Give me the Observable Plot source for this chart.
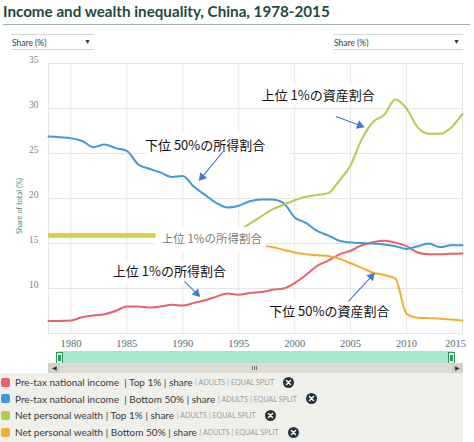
<!DOCTYPE html>
<html>
<head>
<meta charset="utf-8">
<script src="https://cdn.jsdelivr.net/npm/d3@7"></script>
<script src="https://cdn.jsdelivr.net/npm/@observablehq/plot@0.6"></script>
<style>
  html, body { margin: 0; padding: 0; background: #fff; }
  #root { position: relative; width: 474px; height: 442px; overflow: hidden; font-family: Lato, "Noto Sans", sans-serif; }
  #root svg.plot { position: absolute; left: 0; top: 0; }
  .title { position: absolute; left: 3px; top: 2px; font: 700 15.2px Lato, sans-serif; color: #1f4a3b; white-space: nowrap; }
  .title-rule { position: absolute; left: 3px; top: 24px; width: 467px; height: 1px; background: #9fb3ab; }
  .dd { position: absolute; top: 34px; height: 14px; border-top: 1px solid #d2d6d4; border-bottom: 1px solid #d2d6d4; font: 8.5px Lato, sans-serif; color: #2f3f3a; }
  .dd span.t { position: absolute; left: 1px; top: 3px; }
  .dd span.c { position: absolute; right: 3px; top: 2px; font-size: 7px; color: #334; }
  .ylab { position: absolute; left: 19px; top: 206px; transform: translate(-50%, -50%) rotate(-90deg); font: 7.5px Lato, sans-serif; color: #4d8a74; white-space: nowrap; }
  .nav { position: absolute; left: 57px; top: 351px; width: 396px; height: 12px; background: #a6e6ca; }
  .handle { position: absolute; top: 352px; width: 5px; height: 10px; background: #eafaf1; border: 1px solid #23985a; }
  .handle::after { content: ""; position: absolute; left: 1px; top: 2px; width: 3px; height: 6px; background: #2a9d5c; }
  .scroll { position: absolute; left: 48px; top: 363px; width: 415px; height: 10px; background: #dcdcd2; }
  .sbtn { position: absolute; top: 0; width: 12px; height: 10px; background: #d2d2c8; font-size: 6px; color: #333; text-align: center; line-height: 10px; }
  .grip { position: absolute; left: 204px; top: 3px; width: 6px; height: 4px;
          background: repeating-linear-gradient(90deg, #777 0 1px, transparent 1px 2px); }
  .legend { position: absolute; left: 0; top: 373px; width: 463px; height: 69px; background: #f0f0eb; }
  .row { position: absolute; left: 0; height: 14px; display: flex; align-items: center; white-space: nowrap; font: 10px Lato, sans-serif; color: #3a3a3a; }
  .sw { width: 9px; height: 9px; border-radius: 2px; margin: 0 5px 0 1px; }
  .sc { font-size: 7px; color: #9a9a9a; letter-spacing: 0.1px; }
  .x { margin-left: 9px; width: 11px; height: 11px; }
</style>
</head>
<body>
<div id="root"></div>
<script>
// ---- series (share of total, %) ----
const years = d3.range(1978, 2016);
const incomeTop1 = [6.4, 6.4, 6.45, 6.8, 7.0, 7.15, 7.5, 8.0, 8.0, 7.9, 8.0, 8.2, 8.1, 8.4, 8.7, 9.1, 9.45, 9.3, 9.5, 9.6,
  9.85, 10.0, 10.6, 11.5, 12.5, 13.1, 13.8, 14.2, 14.8, 15.15, 15.3, 15.1, 14.7, 14.0, 13.8, 13.8, 13.85, 13.9];
const incomeBottom50 = [26.9, 26.8, 26.7, 26.4, 25.7, 26.0, 25.6, 25.3, 23.8, 23.3, 22.9, 22.4, 22.5, 21.3, 20.4, 19.5, 19.0, 19.2, 19.7, 19.9,
  19.9, 19.5, 17.9, 17.3, 16.4, 15.9, 15.3, 15.1, 15.05, 15.0, 14.9, 14.7, 14.4, 14.7, 15.0, 14.6, 14.8, 14.8];
const wealthYears = d3.range(1995, 2016);
const wealthTop1 = [16.4, 17.2, 18.0, 18.8, 19.3, 19.8, 20.2, 20.4, 20.6, 22.0, 23.7, 26.6, 28.5, 29.3, 31.0, 30.0, 27.9, 27.2, 27.2, 27.9, 29.4];
const wealthBottom50 = [15.3, 15.0, 14.8, 14.6, 14.3, 14.0, 13.8, 13.7, 13.6, 13.3, 12.8, 12.3, 11.75, 11.5, 11.1, 7.2, 6.75, 6.7, 6.65, 6.55, 6.45];

const seriesNames = ["Pre-tax national income", "Pre-tax national income", "Net personal wealth", "Net personal wealth"];
const seriesGroups = ["Top 1%", "Bottom 50%", "Top 1%", "Bottom 50%"];
const seriesColors = ["#e8606c", "#3f9ad8", "#b3cb55", "#f4ad33"];

// ---- axes ----
const xTicks = d3.range(1980, 2011, 5);
const xLastTick = [2015];
const xGridTicks = d3.range(1980, 2016, 5);
const yTicks = [10, 15, 20, 25, 30, 35];
const yGrid = [10, 15, 20, 25, 30];

// ---- annotations (Japanese callouts) ----
const notes = [
  {text: "下位 50%の所得割合", x: 1992.0, y: 25.9, fill: "#111", size: 13, box: [1986.85, 1999.6, 24.22, 27.33]},
  {text: "上位 1%の資産割合", x: 2002.1, y: 31.4, fill: "#111", size: 13, box: [1996.8, 2007.5, 30.33, 32.56]},
  {text: "上位 1%の所得割合", x: 1992.6, y: 15.44, fill: "#7a7a7a", size: 11.5, box: [1987.56, 1997.48, 14.0, 16.78]},
  {text: "上位 1%の所得割合", x: 1988.8, y: 11.8, fill: "#111", size: 13, box: [1983.54, 1994.1, 10.67, 12.89]},
  {text: "下位 50%の資産割合", x: 2003.1, y: 7.44, fill: "#111", size: 13, box: [1997.66, 2008.56, 6.33, 8.56]}
];
const arrows = [
  {x1: 1993.6, y1: 25.2, x2: 1991.4, y2: 21.9},
  {x1: 2003.7, y1: 29.1, x2: 2006.3, y2: 27.9},
  {x1: 1990.15, y1: 10.8, x2: 1991.6, y2: 9.0},
  {x1: 2004.8, y1: 8.56, x2: 2007.2, y2: 11.8}
];
// key swatch next to the grey callout
const keyBar = {x1: 1978, x2: 1987.6, yTop: 16.0, yBottom: 15.74};

// ---- layout ----
const W = 474, H = 356;
const M = {top: 63, right: 12, bottom: 23, left: 48};
const xDomain = [1978, 2015], yDomain = [5, 35];

const rows = (xs, vs) => xs.map((year, i) => ({year, value: vs[i]}));
const data = [
  rows(years, incomeTop1),
  rows(years, incomeBottom50),
  rows(wealthYears, wealthTop1),
  rows(wealthYears, wealthBottom50)
];

// arrow heads as rotated triangles, computed in screen space
const sx = Plot.scale({x: {domain: xDomain, range: [M.left, W - M.right]}});
const sy = Plot.scale({y: {domain: yDomain, range: [H - M.bottom, M.top]}});
const HEAD = 8.5;
const shafts = [], heads = [];
for (const a of arrows) {
  const px1 = sx.apply(a.x1), py1 = sy.apply(a.y1);
  const px2 = sx.apply(a.x2), py2 = sy.apply(a.y2);
  const len = Math.hypot(px2 - px1, py2 - py1);
  const ux = (px2 - px1) / len, uy = (py2 - py1) / len;
  shafts.push({x1: a.x1, y1: a.y1, x2: sx.invert(px2 - ux * HEAD * 0.8), y2: sy.invert(py2 - uy * HEAD * 0.8)});
  heads.push({
    x: sx.invert(px2 - ux * HEAD * 2 / 3),
    y: sy.invert(py2 - uy * HEAD * 2 / 3),
    angle: Math.atan2(ux, -uy) * 180 / Math.PI
  });
}

const tickFont = "'Liberation Serif', serif";
const gridColor = "#e6e6e6";
const xAxisOpts = {tickSize: 0, tickPadding: 6, tickFormat: d => String(d), fontSize: 10.5, fontFamily: tickFont, fill: "#56707a", label: null};

const chart = Plot.plot({
  width: W, height: H,
  marginTop: M.top, marginRight: M.right, marginBottom: M.bottom, marginLeft: M.left,
  x: {domain: xDomain},
  y: {domain: yDomain},
  style: {background: "transparent", overflow: "visible"},
  marks: [
    Plot.gridX(xGridTicks, {stroke: gridColor, strokeOpacity: 1}),
    Plot.gridY(yGrid, {stroke: gridColor, strokeOpacity: 1}),
    Plot.frame({stroke: gridColor}),
    Plot.axisY(yTicks, {tickSize: 0, tickPadding: 10, dy: -4, fontSize: 9.5, fontFamily: tickFont, fill: "#6c8a86", label: null}),
    Plot.axisX(xTicks, xAxisOpts),
    // last year label kept inside the plot edge
    Plot.axisX(xLastTick, {...xAxisOpts, dx: -7}),
    ...data.map((d, i) => Plot.line(d, {x: "year", y: "value", stroke: seriesColors[i], strokeWidth: 2, curve: "monotone-x"})),
    // white backing behind the callouts
    Plot.rect(notes, {x1: d => d.box[0], x2: d => d.box[1], y1: d => d.box[2], y2: d => d.box[3], fill: "white"}),
    Plot.ruleY([keyBar], {x1: "x1", x2: "x2", y: "yTop", stroke: "#e9c13c", strokeWidth: 2.7}),
    Plot.ruleY([keyBar], {x1: "x1", x2: "x2", y: "yBottom", stroke: "#bcd35e", strokeWidth: 2}),
    Plot.text(notes, {x: "x", y: "y", text: "text", fill: "fill", fontSize: d => d.size, fontFamily: "'Noto Sans CJK JP', sans-serif"}),
    Plot.link(shafts, {x1: "x1", y1: "y1", x2: "x2", y2: "y2", stroke: "#4a78c6", strokeWidth: 1.1}),
    Plot.dot(heads, {x: "x", y: "y", symbol: "triangle", r: 3.3, rotate: "angle", fill: "#4a78c6", stroke: "none"})
  ]
});
chart.classList.add("plot");

const root = document.getElementById("root");
root.appendChild(chart);

root.insertAdjacentHTML("beforeend", `
  <div class="title">Income and wealth inequality, China, 1978-2015</div>
  <div class="title-rule"></div>
  <div class="dd" style="left:11px;width:83px"><span class="t">Share (%)</span><span class="c">▼</span></div>
  <div class="dd" style="left:333px;width:130px"><span class="t">Share (%)</span><span class="c">▼</span></div>
  <div class="ylab">Share of total (%)</div>
  <div class="nav"></div>
  <div class="handle" style="left:56px"></div>
  <div class="handle" style="left:448px"></div>
  <div class="scroll">
    <div class="sbtn" style="left:0">◀</div>
    <div class="grip"></div>
    <div class="sbtn" style="right:0">▶</div>
  </div>
  <div class="legend"></div>
`);

const legend = root.querySelector(".legend");
const closeIcon = `<svg class="x" viewBox="0 0 12 12"><circle cx="6" cy="6" r="6" fill="#27353a"/><path d="M3.8 3.8L8.2 8.2M8.2 3.8L3.8 8.2" stroke="#fff" stroke-width="1.5" stroke-linecap="round"/></svg>`;
seriesNames.forEach((name, i) => {
  const sep = i < 2 ? "&nbsp; | " : " | ";
  const row = document.createElement("div");
  row.className = "row";
  row.style.top = (2 + i * 16.7) + "px";
  row.innerHTML = `<span class="sw" style="background:${seriesColors[i]}"></span>` +
    `<span>${name}${sep}${seriesGroups[i]} | share&nbsp;</span><span class="sc">| ADULTS | EQUAL SPLIT</span>${closeIcon}`;
  legend.appendChild(row);
});
</script>
</body>
</html>
